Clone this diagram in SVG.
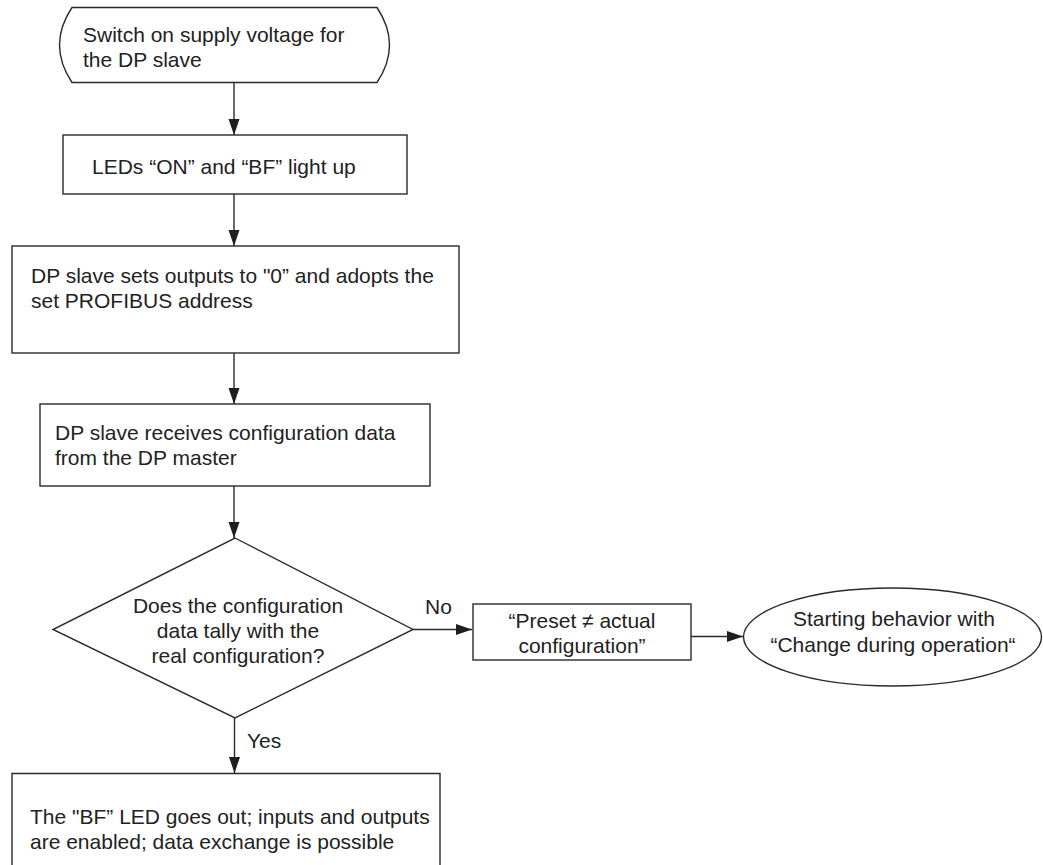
<svg xmlns="http://www.w3.org/2000/svg" width="1043" height="865" viewBox="0 0 1043 865">
<style>
.shape{fill:#fff;stroke:#2a2a2a;stroke-width:1.4}
.t{font-family:"Liberation Sans",Arial,sans-serif;font-size:21px;fill:#222}
.c{text-anchor:middle}
.edge{fill:none;stroke:#2a2a2a;stroke-width:1.4}
</style>
<defs>
<marker id="ah" markerUnits="userSpaceOnUse" markerWidth="16" markerHeight="12" refX="16" refY="5.5" orient="auto">
<path d="M0,0 L16,5.5 L0,11 Z" fill="#1e1e1e"/>
</marker>
</defs>
<rect width="1043" height="865" fill="#fff"/>
<g id="connectors">
<path class="edge" d="M234,83 L234,135" marker-end="url(#ah)"/>
<path class="edge" d="M234,194 L234,246" marker-end="url(#ah)"/>
<path class="edge" d="M234,353 L234,404" marker-end="url(#ah)"/>
<path class="edge" d="M234,486 L234,538" marker-end="url(#ah)"/>
<path class="edge" d="M413,629.5 L472,629.5" marker-end="url(#ah)"/>
<path class="edge" d="M691,636.5 L743,636.5" marker-end="url(#ah)"/>
<path class="edge" d="M234.5,718 L234.5,773" marker-end="url(#ah)"/>
<text class="t" x="425" y="614">No</text>
<text class="t" x="247" y="748">Yes</text>
</g>
<g id="start">
<path class="shape" d="M72,7.5 L377,7.5 Q402,45 377,82.5 L72,82.5 Q47,45 72,7.5 Z"/>
<text class="t" x="83" y="41.5">Switch on supply voltage for</text>
<text class="t" x="83" y="66.5">the DP slave</text>
</g>
<g id="leds">
<rect class="shape" x="63" y="135" width="344" height="59"/>
<text class="t" x="92" y="174">LEDs “ON” and “BF” light up</text>
</g>
<g id="outputs">
<rect class="shape" x="12" y="246" width="447" height="107"/>
<text class="t" x="31" y="283">DP slave sets outputs to "0” and adopts the</text>
<text class="t" x="31" y="308">set PROFIBUS address</text>
</g>
<g id="receive">
<rect class="shape" x="40" y="404" width="390" height="82"/>
<text class="t" x="55" y="440">DP slave receives configuration data</text>
<text class="t" x="55" y="465">from the DP master</text>
</g>
<g id="decision">
<polygon class="shape" points="235,538 413,629.5 235,718 53,629.5"/>
<text class="t c" x="238" y="613">Does the configuration</text>
<text class="t c" x="238" y="638">data tally with the</text>
<text class="t c" x="238" y="663">real configuration?</text>
</g>
<g id="preset">
<rect class="shape" x="473" y="604" width="218" height="56"/>
<text class="t c" x="582" y="628">“Preset ≠ actual</text>
<text class="t c" x="582" y="653">configuration”</text>
</g>
<g id="starting">
<ellipse class="shape" cx="892.5" cy="637" rx="149" ry="49"/>
<text class="t c" x="894" y="626">Starting behavior with</text>
<text class="t c" x="893" y="651.5">“Change during operation“</text>
</g>
<g id="enabled">
<path class="shape" d="M12,866 L12,773.5 L440,773.5 L440,866"/>
<text class="t" x="30" y="824">The "BF” LED goes out; inputs and outputs</text>
<text class="t" x="30" y="848.5">are enabled; data exchange is possible</text>
</g>
</svg>
